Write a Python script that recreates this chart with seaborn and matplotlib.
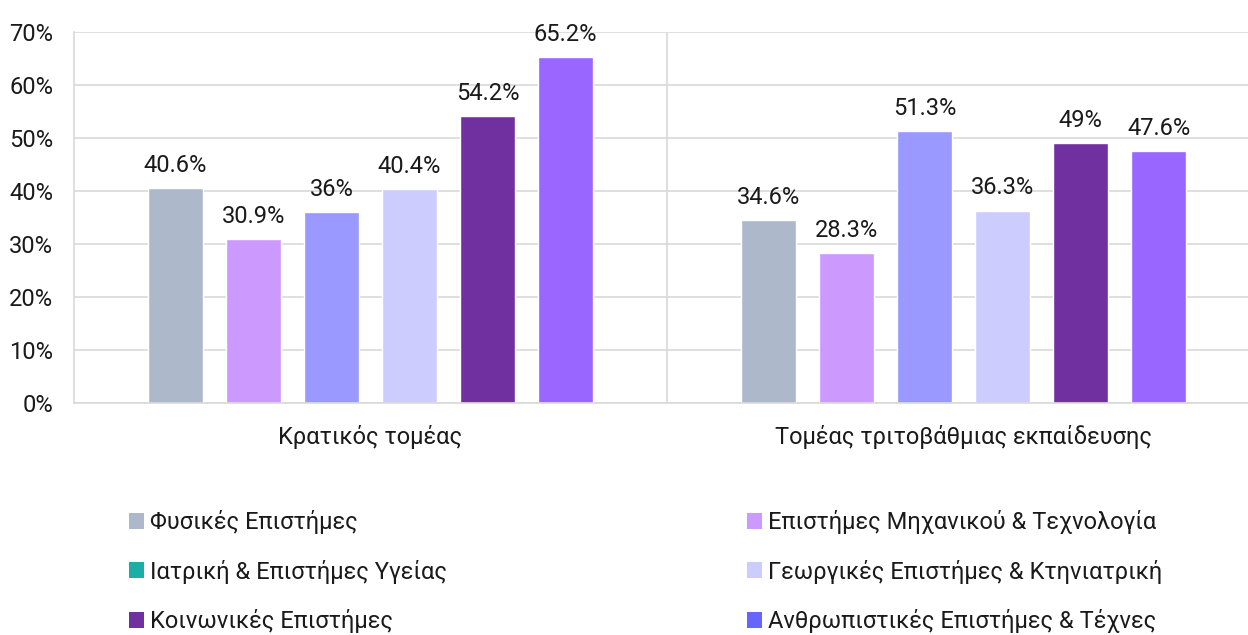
import matplotlib
matplotlib.use("Agg")
import matplotlib.pyplot as plt
import seaborn as sns
import pandas as pd
from matplotlib.patches import Patch
from matplotlib.ticker import FuncFormatter

sectors = ["Κρατικός τομέας", "Τομέας τριτοβάθμιας εκπαίδευσης"]
fields = ["Φυσικές Επιστήμες", "Επιστήμες Μηχανικού & Τεχνολογία",
          "Ιατρική & Επιστήμες Υγείας", "Γεωργικές Επιστήμες & Κτηνιατρική",
          "Κοινωνικές Επιστήμες", "Ανθρωπιστικές Επιστήμες & Τέχνες"]
values_public = [40.6, 30.9, 36.0, 40.4, 54.2, 65.2]
values_higher = [34.6, 28.3, 51.3, 36.3, 49.0, 47.6]
bar_colors = ["#ADB9CA", "#CC99FF", "#9999FF", "#CCCCFF", "#7030A0", "#9966FF"]
legend_colors = ["#ADB9CA", "#CC99FF", "#1AAFA6", "#CCCCFF", "#7030A0", "#6666FF"]
yticks = [0, 10, 20, 30, 40, 50, 60, 70]

rows = []
for s, vals in zip(sectors, [values_public, values_higher]):
    for f, v in zip(fields, vals):
        rows.append({"sector": s, "field": f, "value": v})
df = pd.DataFrame(rows)

sns.set_theme(style="white")
plt.rcParams["font.family"] = ["Roboto", "DejaVu Sans"]

W, H = 1248, 635
fig = plt.figure(figsize=(W / 100, H / 100), dpi=100)
ax = fig.add_axes([74 / W, 232 / H, 1186 / W, 371 / H])

sns.barplot(data=df, x="sector", y="value", hue="field", hue_order=fields,
            order=sectors, palette=bar_colors, width=0.79, gap=0.3,
            saturation=1, legend=False, ax=ax, errorbar=None)

for cont in ax.containers:
    labels = [f"{b.get_height():g}%" for b in cont]
    ax.bar_label(cont, labels=labels, padding=8, fontsize=17, color="#1a1a1a")

ax.set_xlim(-0.5, 1.5)
ax.set_ylim(0, 70)
ax.set_yticks(yticks)
ax.yaxis.set_major_formatter(FuncFormatter(lambda v, p: f"{v:.0f}%"))
ax.grid(axis="y", color="#D9D9D9", linewidth=1.2)
ax.set_axisbelow(True)
ax.axvline(0.5, color="#D9D9D9", linewidth=1.2, zorder=0)
for sp in ["top", "right"]:
    ax.spines[sp].set_visible(False)
for sp in ["left", "bottom"]:
    ax.spines[sp].set_color("#D9D9D9")
    ax.spines[sp].set_linewidth(1.2)
ax.tick_params(axis="y", length=0, pad=15, labelsize=17, labelcolor="#1a1a1a")
ax.tick_params(axis="x", length=0, pad=16, labelsize=17, labelcolor="#1a1a1a")
ax.set_xlabel("")
ax.set_ylabel("")

handles = [Patch(facecolor=c, edgecolor="none") for c in legend_colors]
col1 = [0, 2, 4]
col2 = [1, 3, 5]
for idx, x0 in [(col1, 129), (col2, 747)]:
    leg = fig.legend([handles[i] for i in idx], [fields[i] for i in idx],
                     loc="upper left", bbox_to_anchor=(x0 / W, (H - 510) / H),
                     frameon=False, fontsize=17, handlelength=0.65, handleheight=0.65,
                     handletextpad=0.25, labelspacing=1.08, borderpad=0, borderaxespad=0)
    for t in leg.get_texts():
        t.set_color("#1a1a1a")

fig.savefig("out.png", dpi=100)
